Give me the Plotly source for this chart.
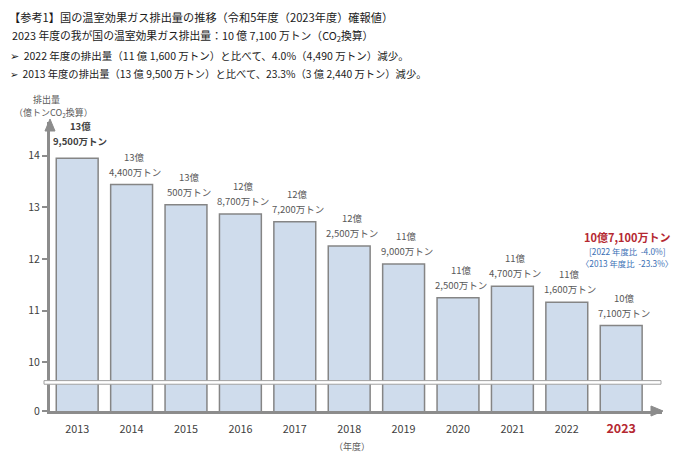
import plotly.graph_objects as go

# ---- data ----
years = ["2013", "2014", "2015", "2016", "2017", "2018", "2019", "2020", "2021", "2022", "2023"]
emissions = [13.95, 13.44, 13.05, 12.87, 12.72, 12.25, 11.90, 11.25, 11.47, 11.16, 10.71]  # 億トンCO2
label_oku = ["13億", "13億", "13億", "12億", "12億", "12億", "11億", "11億", "11億", "11億", "10億"]
label_man = ["9,500万トン", "4,400万トン", "500万トン", "8,700万トン", "7,200万トン", "2,500万トン",
             "9,000万トン", "2,500万トン", "4,700万トン", "1,600万トン", "7,100万トン"]
y_tick_vals = [10, 11, 12, 13, 14]
y_tick_text = ["10", "11", "12", "13", "14"]
x_tick_text = ["2013", "2014", "2015", "2016", "2017", "2018", "2019", "2020", "2021", "2022",
               "<b><span style='color:#b52831;font-size:12.5px'>2023</span></b>"]
title_lines = [
    "【参考1】国の温室効果ガス排出量の推移（令和5年度（2023年度）確報値）",
    "2023 年度の我が国の温室効果ガス排出量：10 億 7,100 万トン（CO<sub>2</sub>換算）",
    "➢  2022 年度の排出量（11 億 1,600 万トン）と比べて、4.0%（4,490 万トン）減少。",
    "➢  2013 年度の排出量（13 億 9,500 万トン）と比べて、23.3%（3 億 2,440 万トン）減少。",
]
highlight_main = "10億7,100万トン"
highlight_sub = ["[2022 年度比  -4.0%]", "〈2013 年度比  -23.3%〉"]

# ---- layout geometry (page pixels; the page body adds an 8px margin) ----
OFF = 8
PAGE_W, PAGE_H = 700, 462
W, H = PAGE_W - OFF, PAGE_H - OFF
ML, MR, MT, MB = 50 - OFF, 38, 122 - OFF, 51
PW, PH = W - ML - MR, H - MT - MB
Y_FLOOR = 9.057   # broken axis: "0" drawn at the floor
Y_TOP = 14.65
BREAK = 9.61

FONT = "Noto Sans CJK JP"
GRAY_TXT = "#595959"
AXIS_GRAY = "#8c8c8c"


def px(xp):
    return (xp - OFF - ML) / PW


def py(yp):
    return (PAGE_H - MB - yp) / PH


fig = go.Figure()
fig.add_trace(go.Bar(
    x=years, y=emissions, width=0.77,
    marker=dict(color="#cfdcec", line=dict(color="#858585", width=1.5)),
    hoverinfo="skip",
))

ann = []
for i, v in enumerate(emissions):
    first = i == 0
    col = "#404040" if first else GRAY_TXT
    o1, o2 = (32, 17) if first else (28, 13)
    ann.append(dict(xref="x", yref="y", x=i, y=v,
                    text=("<b>%s</b>" % label_oku[i]) if first else label_oku[i],
                    showarrow=False, xanchor="center", yanchor="middle", yshift=o1, xshift=3,
                    borderpad=0, font=dict(family=FONT, size=9.5, color=col)))
    ann.append(dict(xref="x", yref="y", x=i, y=v,
                    text=("<b>%s</b>" % label_man[i]) if first else label_man[i],
                    showarrow=False, xanchor="center", yanchor="middle", yshift=o2, xshift=3,
                    borderpad=0, font=dict(family=FONT, size=9.5, color=col)))

# titles
ann.append(dict(xref="paper", yref="paper", x=px(8), y=py(8), text=title_lines[0], showarrow=False,
                xanchor="left", yanchor="top", borderpad=0,
                font=dict(family=FONT, size=11.2, color="#1a1a1a")))
ann.append(dict(xref="paper", yref="paper", x=px(11), y=py(35), text=title_lines[1], showarrow=False,
                xanchor="left", yanchor="middle", borderpad=0,
                font=dict(family=FONT, size=10.8, color="#1a1a1a")))
ann.append(dict(xref="paper", yref="paper", x=px(9), y=py(55), text=title_lines[2], showarrow=False,
                xanchor="left", yanchor="middle", borderpad=0,
                font=dict(family=FONT, size=10.5, color="#1a1a1a")))
ann.append(dict(xref="paper", yref="paper", x=px(9), y=py(74), text=title_lines[3], showarrow=False,
                xanchor="left", yanchor="middle", borderpad=0,
                font=dict(family=FONT, size=10.3, color="#1a1a1a")))

# axis titles
ann.append(dict(xref="paper", yref="paper", x=px(46), y=py(100), text="排出量", showarrow=False,
                xanchor="center", yanchor="middle", borderpad=0,
                font=dict(family=FONT, size=9, color=GRAY_TXT)))
ann.append(dict(xref="paper", yref="paper", x=px(53), y=py(113), text="（億トンCO<sub>2</sub>換算）",
                showarrow=False, xanchor="center", yanchor="middle", borderpad=0,
                font=dict(family=FONT, size=9, color=GRAY_TXT)))
ann.append(dict(xref="paper", yref="paper", x=px(352), y=py(446), text="（年度）", showarrow=False,
                xanchor="center", yanchor="middle", font=dict(family=FONT, size=9, color=GRAY_TXT)))

# highlight for 2023
last = len(emissions) - 1
ann.append(dict(xref="x", yref="y", x=last, y=emissions[-1], yshift=89, xshift=6,
                text="<b>%s</b>" % highlight_main, xanchor="center", borderpad=0,
                showarrow=False, yanchor="middle", font=dict(family=FONT, size=11, color="#b52831")))
ann.append(dict(xref="x", yref="y", x=last, y=emissions[-1], yshift=75, xshift=6,
                text=highlight_sub[0], xanchor="center", borderpad=0,
                showarrow=False, yanchor="middle", font=dict(family=FONT, size=8.3, color="#3a6fb5")))
ann.append(dict(xref="x", yref="y", x=last, y=emissions[-1], yshift=63, xshift=6,
                text=highlight_sub[1], xanchor="center", borderpad=0,
                showarrow=False, yanchor="middle", font=dict(family=FONT, size=8.3, color="#3a6fb5")))

# axis arrowheads as small triangles (paper coordinates)
dx, dy = 1.0 / PW, 1.0 / PH
y_arrow = "M %f,%f L %f,%f L %f,%f Z" % (-5 * dx, 1 - 9 * dy, 0, 1 + 3 * dy, 5 * dx, 1 - 9 * dy)
x_arrow = "M %f,%f L %f,%f L %f,%f Z" % (1 - 11 * dx, 5 * dy, 1 + 1 * dx, 0, 1 - 11 * dx, -5 * dy)

shapes = [
    dict(type="rect", xref="paper", yref="y", x0=px(44), x1=px(661), y0=BREAK - 0.035,
         y1=BREAK + 0.035, fillcolor="white", line=dict(color="#a0a0a0", width=1), layer="above"),
    dict(type="path", xref="paper", yref="paper", path=y_arrow, fillcolor=AXIS_GRAY,
         line=dict(color=AXIS_GRAY, width=1), layer="above"),
    dict(type="path", xref="paper", yref="paper", path=x_arrow, fillcolor=AXIS_GRAY,
         line=dict(color=AXIS_GRAY, width=1), layer="above"),
]

fig.update_layout(
    width=W, height=H, margin=dict(l=ML, r=MR, t=MT, b=MB, autoexpand=False),
    plot_bgcolor="white", paper_bgcolor="white", showlegend=False,
    annotations=ann, shapes=shapes, bargap=0.2,
    xaxis=dict(type="category", range=[-0.5, 10.75], tickmode="array", tickvals=years,
               ticktext=x_tick_text, automargin=False, ticklabelstandoff=6,
               showline=True, linecolor=AXIS_GRAY, linewidth=2.5, ticks="", showgrid=False,
               tickfont=dict(family=FONT, size=10.8, color="#404040"), zeroline=False, fixedrange=True),
    yaxis=dict(range=[Y_FLOOR, Y_TOP], tickmode="array", tickvals=[Y_FLOOR] + y_tick_vals,
               ticktext=["0"] + y_tick_text, showline=True, linecolor=AXIS_GRAY, linewidth=3,
               ticks="outside", ticklen=5, tickcolor=AXIS_GRAY, tickwidth=1.5, showgrid=False,
               automargin=False,
               zeroline=False, tickfont=dict(family=FONT, size=10.5, color="#404040"), fixedrange=True),
    font=dict(family=FONT),
)

fig.write_html("out.html")
